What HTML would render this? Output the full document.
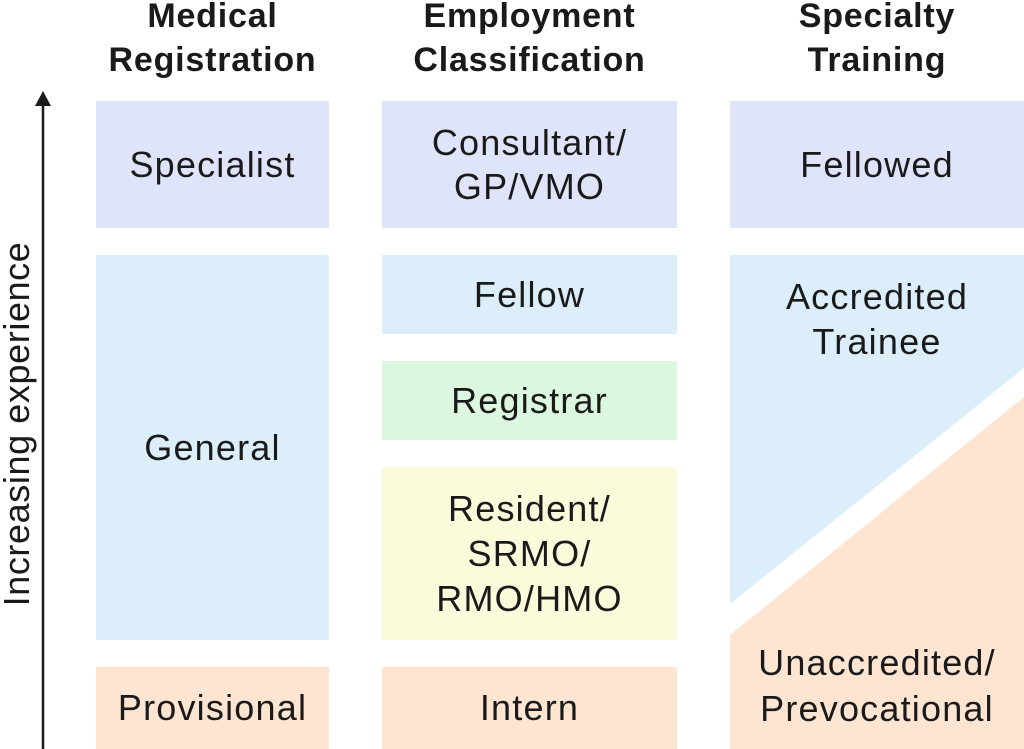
<!DOCTYPE html>
<html><head><style>
body{margin:0;width:1024px;height:749px;background:#fff;position:relative;overflow:hidden;font-family:"Liberation Sans",sans-serif;color:#1a1a1a}
.b{position:absolute;display:flex;align-items:center;justify-content:center;text-align:center;font-size:36px;letter-spacing:1.2px;line-height:44px;white-space:nowrap}
.h{position:absolute;text-align:center;font-size:34px;letter-spacing:0.8px;line-height:44px;font-weight:bold;top:-6px;white-space:nowrap}
.p{background:#e0e4fa}.bl{background:#dbeefa}.g{background:#dcf7df}.y{background:#fbfadb}.o{background:#fde5d2}
</style></head><body>
<div class="h" style="left:96px;width:233px">Medical<br>Registration</div>
<div class="h" style="left:382px;width:295px">Employment<br>Classification</div>
<div class="h" style="left:730px;width:294px">Specialty<br>Training</div>

<div class="b p" style="left:96px;top:101px;width:233px;height:127px">Specialist</div>
<div class="b bl" style="left:96px;top:255px;width:233px;height:385px">General</div>
<div class="b o" style="left:96px;top:667px;width:233px;height:82px">Provisional</div>

<div class="b p" style="left:382px;top:101px;width:295px;height:127px">Consultant/<br>GP/VMO</div>
<div class="b bl" style="left:382px;top:255px;width:295px;height:79px">Fellow</div>
<div class="b g" style="left:382px;top:361px;width:295px;height:79px">Registrar</div>
<div class="b y" style="left:382px;top:467px;width:295px;height:173px;line-height:45px">Resident/<br>SRMO/<br>RMO/HMO</div>
<div class="b o" style="left:382px;top:667px;width:295px;height:82px">Intern</div>

<div class="b p" style="left:730px;top:101px;width:294px;height:127px">Fellowed</div>
<svg style="position:absolute;left:0;top:0" width="1024" height="749">
<polygon points="730,255 1024,255 1024,368 730,604" fill="#dbeefa"/>
<polygon points="730,635 1024,397 1024,749 730,749" fill="#fde5d2"/>
<line x1="43" y1="100" x2="43" y2="749" stroke="#1a1a1a" stroke-width="2.5"/>
<polygon points="43,91 35,106 51,106" fill="#1a1a1a"/>
<text x="0" y="0" transform="translate(29,424) rotate(-90)" text-anchor="middle" font-family="Liberation Sans" font-size="36" letter-spacing="0.6" fill="#1a1a1a">Increasing experience</text>
</svg>
<div class="b" style="left:730px;top:274px;width:294px;line-height:45px">Accredited<br>Trainee</div>
<div class="b" style="left:730px;top:640px;width:294px;line-height:46px">Unaccredited/<br>Prevocational</div>
</body></html>
